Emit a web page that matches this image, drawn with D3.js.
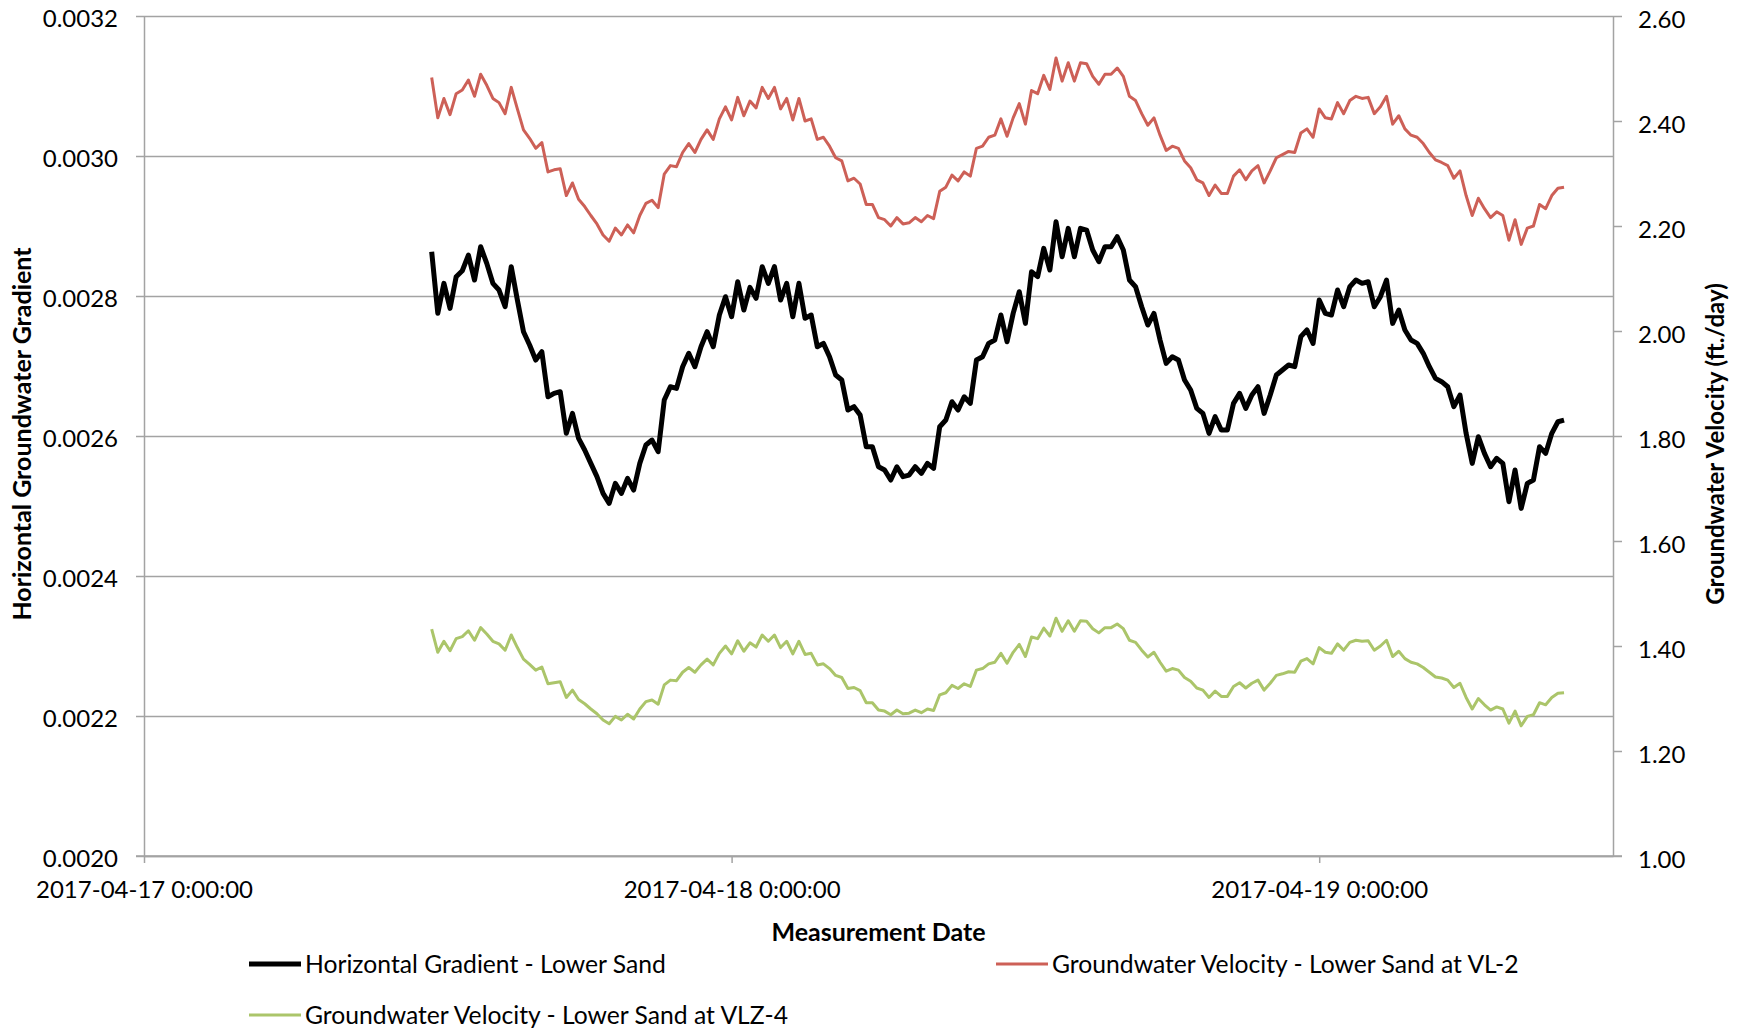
<!DOCTYPE html>
<html>
<head>
<meta charset="utf-8">
<script src="https://cdn.jsdelivr.net/npm/d3@7"></script>
<style>
  body { margin: 0; background: #fff; }
  svg text { font-family: Lato, "Open Sans", sans-serif; fill: #000; }
</style>
</head>
<body>
<div id="chartDiv"></div>
<script>
const w = 1738;
const h = 1032;

// readings every 15 minutes starting 2017-04-17 11:45
const startTime = new Date(2017, 3, 17, 11, 45);
const stepMinutes = 15;

const gradient = [
  0.0028633, 0.0027752, 0.0028181, 0.0027823, 0.0028276, 0.0028361, 0.0028585, 0.0028228, 0.0028704, 0.0028466,
  0.0028181, 0.0028085, 0.0027847, 0.0028419, 0.0027942, 0.0027490, 0.0027300, 0.0027085, 0.0027204, 0.0026561,
  0.0026609, 0.0026633, 0.0026038, 0.0026323, 0.0025966, 0.0025800, 0.0025609, 0.0025419, 0.0025181, 0.0025038,
  0.0025323, 0.0025181, 0.0025395, 0.0025228, 0.0025609, 0.0025871, 0.0025942, 0.0025776, 0.0026514, 0.0026704,
  0.0026681, 0.0026990, 0.0027181, 0.0026990, 0.0027276, 0.0027490, 0.0027276, 0.0027728, 0.0027990, 0.0027704,
  0.0028204, 0.0027800, 0.0028123, 0.0027966, 0.0028419, 0.0028181, 0.0028419, 0.0027942, 0.0028181, 0.0027704,
  0.0028181, 0.0027681, 0.0027728, 0.0027276, 0.0027323, 0.0027133, 0.0026871, 0.0026800, 0.0026371, 0.0026419,
  0.0026300, 0.0025847, 0.0025847, 0.0025561, 0.0025514, 0.0025371, 0.0025561, 0.0025419, 0.0025442, 0.0025561,
  0.0025466, 0.0025609, 0.0025538, 0.0026133, 0.0026228, 0.0026490, 0.0026371, 0.0026561, 0.0026466, 0.0027085,
  0.0027133, 0.0027323, 0.0027371, 0.0027728, 0.0027347, 0.0027752, 0.0028061, 0.0027609, 0.0028347, 0.0028276,
  0.0028681, 0.0028371, 0.0029061, 0.0028561, 0.0028966, 0.0028561, 0.0028966, 0.0028942, 0.0028657, 0.0028490,
  0.0028704, 0.0028704, 0.0028847, 0.0028657, 0.0028228, 0.0028133, 0.0027847, 0.0027585, 0.0027752, 0.0027371,
  0.0027038, 0.0027133, 0.0027085, 0.0026800, 0.0026657, 0.0026395, 0.0026323, 0.0026038, 0.0026276, 0.0026085,
  0.0026085, 0.0026466, 0.0026609, 0.0026395, 0.0026585, 0.0026704, 0.0026323, 0.0026585, 0.0026871, 0.0026942,
  0.0027014, 0.0026990, 0.0027419, 0.0027514, 0.0027323, 0.0027942, 0.0027752, 0.0027728, 0.0028085, 0.0027847,
  0.0028133, 0.0028228, 0.0028181, 0.0028204, 0.0027847, 0.0027990, 0.0028228, 0.0027609, 0.0027800, 0.0027514,
  0.0027371, 0.0027323, 0.0027181, 0.0026990, 0.0026823, 0.0026776, 0.0026704, 0.0026419, 0.0026585, 0.0026038,
  0.0025609, 0.0025990, 0.0025752, 0.0025561, 0.0025681, 0.0025609, 0.0025061, 0.0025514, 0.0024966, 0.0025323,
  0.0025371, 0.0025847, 0.0025752, 0.0026038, 0.0026204, 0.0026228
];

const velocityVL2 = [
  2.483, 2.406, 2.443, 2.412, 2.452, 2.459, 2.478, 2.447, 2.489, 2.468,
  2.443, 2.435, 2.414, 2.464, 2.423, 2.383, 2.367, 2.348, 2.359, 2.303,
  2.307, 2.309, 2.258, 2.282, 2.251, 2.237, 2.220, 2.204, 2.183, 2.171,
  2.196, 2.183, 2.202, 2.187, 2.220, 2.243, 2.249, 2.235, 2.299, 2.315,
  2.313, 2.340, 2.357, 2.340, 2.365, 2.383, 2.365, 2.404, 2.427, 2.402,
  2.445, 2.410, 2.438, 2.425, 2.464, 2.443, 2.464, 2.423, 2.443, 2.402,
  2.443, 2.400, 2.404, 2.365, 2.369, 2.352, 2.330, 2.324, 2.286, 2.291,
  2.280, 2.241, 2.241, 2.216, 2.212, 2.200, 2.216, 2.204, 2.206, 2.216,
  2.208, 2.220, 2.214, 2.266, 2.274, 2.297, 2.286, 2.303, 2.295, 2.348,
  2.352, 2.369, 2.373, 2.404, 2.371, 2.406, 2.433, 2.394, 2.458, 2.452,
  2.487, 2.460, 2.520, 2.476, 2.511, 2.476, 2.511, 2.509, 2.485, 2.470,
  2.489, 2.489, 2.501, 2.485, 2.447, 2.439, 2.414, 2.392, 2.406, 2.373,
  2.344, 2.352, 2.348, 2.324, 2.311, 2.288, 2.282, 2.258, 2.278, 2.262,
  2.262, 2.295, 2.307, 2.288, 2.305, 2.315, 2.282, 2.305, 2.330, 2.336,
  2.342, 2.340, 2.377, 2.385, 2.369, 2.423, 2.406, 2.404, 2.435, 2.414,
  2.439, 2.447, 2.443, 2.445, 2.414, 2.427, 2.447, 2.394, 2.410, 2.385,
  2.373, 2.369, 2.357, 2.340, 2.326, 2.321, 2.315, 2.291, 2.305, 2.258,
  2.220, 2.253, 2.233, 2.216, 2.227, 2.220, 2.173, 2.212, 2.165, 2.196,
  2.200, 2.241, 2.233, 2.258, 2.272, 2.274
];

const velocityVLZ4 = [
  1.432, 1.388, 1.409, 1.391, 1.414, 1.418, 1.429, 1.411, 1.435, 1.423,
  1.409, 1.404, 1.392, 1.421, 1.397, 1.375, 1.365, 1.354, 1.360, 1.328,
  1.330, 1.332, 1.302, 1.316, 1.298, 1.290, 1.280, 1.271, 1.259, 1.252,
  1.266, 1.259, 1.270, 1.261, 1.280, 1.294, 1.297, 1.289, 1.326, 1.335,
  1.334, 1.350, 1.359, 1.350, 1.364, 1.375, 1.364, 1.386, 1.400, 1.385,
  1.410, 1.390, 1.406, 1.398, 1.421, 1.409, 1.421, 1.397, 1.409, 1.385,
  1.409, 1.384, 1.386, 1.364, 1.366, 1.357, 1.344, 1.340, 1.319, 1.321,
  1.315, 1.292, 1.292, 1.278, 1.276, 1.269, 1.278, 1.271, 1.272, 1.278,
  1.273, 1.280, 1.277, 1.307, 1.311, 1.325, 1.319, 1.328, 1.323, 1.354,
  1.357, 1.366, 1.369, 1.386, 1.367, 1.388, 1.403, 1.380, 1.417, 1.414,
  1.434, 1.419, 1.453, 1.428, 1.448, 1.428, 1.448, 1.447, 1.433, 1.425,
  1.435, 1.435, 1.442, 1.433, 1.411, 1.407, 1.392, 1.379, 1.388, 1.369,
  1.352, 1.357, 1.354, 1.340, 1.333, 1.320, 1.316, 1.302, 1.314, 1.304,
  1.304, 1.323, 1.330, 1.320, 1.329, 1.335, 1.316, 1.329, 1.344, 1.347,
  1.351, 1.350, 1.371, 1.376, 1.366, 1.397, 1.388, 1.386, 1.404, 1.392,
  1.407, 1.411, 1.409, 1.410, 1.392, 1.400, 1.411, 1.380, 1.390, 1.376,
  1.369, 1.366, 1.359, 1.350, 1.341, 1.339, 1.335, 1.321, 1.329, 1.302,
  1.280, 1.300, 1.288, 1.278, 1.284, 1.280, 1.253, 1.276, 1.248, 1.266,
  1.269, 1.292, 1.288, 1.302, 1.310, 1.311
];

const leftTicks = [0.0020, 0.0022, 0.0024, 0.0026, 0.0028, 0.0030, 0.0032];
const rightTicks = [1.0, 1.2, 1.4, 1.6, 1.8, 2.0, 2.2, 2.4, 2.6];
const dateTicks = [new Date(2017, 3, 17), new Date(2017, 3, 18), new Date(2017, 3, 19)];
const xDomain = [new Date(2017, 3, 17), new Date(2017, 3, 19, 12)];

const seriesNames = [
  "Horizontal Gradient - Lower Sand",
  "Groundwater Velocity - Lower Sand at VL-2",
  "Groundwater Velocity - Lower Sand at VLZ-4"
];

const plot = {left: 144, right: 1613, top: 16, bottom: 856};
const gridColor = "#a3a3a3";
const fontSize = 24;

const svg = d3.select("#chartDiv")
  .append("svg")
  .attr("width", w)
  .attr("height", h);

const x = d3.scaleTime().domain(xDomain).range([plot.left, plot.right]);
const yL = d3.scaleLinear().domain([0.0020, 0.0032]).range([plot.bottom, plot.top]);
const yR = d3.scaleLinear().domain([1.0, 2.6]).range([plot.bottom, plot.top]);

const times = gradient.map((_d, i) => d3.timeMinute.offset(startTime, i * stepMinutes));

// horizontal grid
svg.append("g")
  .attr("transform", `translate(${plot.left}, 0)`)
  .call(d3.axisLeft(yL).tickValues(leftTicks).tickSize(-(plot.right - plot.left)).tickFormat(""))
  .call(g => g.select(".domain").remove())
  .call(g => g.selectAll("line").attr("stroke", gridColor).attr("stroke-width", 1.5));

const styleAxis = g => {
  g.select(".domain").attr("stroke", gridColor).attr("stroke-width", 1.5);
  g.selectAll(".tick line").attr("stroke", gridColor).attr("stroke-width", 1.5);
  g.selectAll("text").attr("font-size", fontSize).attr("font-family", null);
};

// left axis
svg.append("g")
  .attr("transform", `translate(${plot.left}, 0)`)
  .call(d3.axisLeft(yL).tickValues(leftTicks).tickFormat(d3.format(".4f")).tickSize(8).tickSizeOuter(0).tickPadding(18))
  .call(styleAxis)
  .call(g => g.selectAll("text").attr("dy", "0.44em"));

// right axis
svg.append("g")
  .attr("transform", `translate(${plot.right}, 0)`)
  .call(d3.axisRight(yR).tickValues(rightTicks).tickFormat(d3.format(".2f")).tickSize(9).tickSizeOuter(0).tickPadding(16))
  .call(styleAxis)
  .call(g => g.selectAll("text").attr("dy", "0.46em"));

// bottom axis
svg.append("g")
  .attr("transform", `translate(0, ${plot.bottom})`)
  .call(d3.axisBottom(x).tickValues(dateTicks).tickFormat(d3.timeFormat("%Y-%m-%d %-H:%M:%S")).tickSize(7).tickSizeOuter(0).tickPadding(18))
  .call(styleAxis);

// bottom axis line stretches under the side ticks
svg.append("line")
  .attr("x1", plot.left - 8).attr("x2", plot.right + 9)
  .attr("y1", plot.bottom).attr("y2", plot.bottom)
  .attr("stroke", gridColor).attr("stroke-width", 1.5);

// series
const lineL = d3.line().x((_d, i) => x(times[i])).y(d => yL(d));
const lineR = d3.line().x((_d, i) => x(times[i])).y(d => yR(d));

const series = [
  {values: velocityVLZ4, line: lineR, color: "#abc56a", width: 3},
  {values: velocityVL2, line: lineR, color: "#cd6057", width: 3},
  {values: gradient, line: lineL, color: "#000000", width: 5}
];

svg.selectAll("path.series")
  .data(series)
  .enter()
  .append("path")
  .attr("class", "series")
  .attr("fill", "none")
  .attr("stroke", d => d.color)
  .attr("stroke-width", d => d.width)
  .attr("stroke-linejoin", "round")
  .attr("d", d => d.line(d.values));

// axis titles
svg.append("text")
  .attr("transform", "translate(22, 434) rotate(-90)")
  .attr("text-anchor", "middle")
  .attr("dy", "0.35em")
  .attr("font-size", 25)
  .attr("font-weight", "bold")
  .text("Horizontal Groundwater Gradient");

svg.append("text")
  .attr("transform", "translate(1716, 444) rotate(-90)")
  .attr("text-anchor", "middle")
  .attr("dy", "0.35em")
  .attr("font-size", fontSize)
  .attr("font-weight", "bold")
  .text("Groundwater Velocity (ft./day)");

svg.append("text")
  .attr("x", (plot.left + plot.right) / 2)
  .attr("y", 932)
  .attr("text-anchor", "middle")
  .attr("dy", "0.35em")
  .attr("font-size", 25)
  .attr("font-weight", "bold")
  .text("Measurement Date");

// legend
const legendItems = [
  {name: seriesNames[0], color: "#000000", width: 5, x: 249, y: 964},
  {name: seriesNames[1], color: "#cd6057", width: 3, x: 996, y: 964},
  {name: seriesNames[2], color: "#abc56a", width: 3, x: 249, y: 1015}
];

const legend = svg.selectAll("g.legend")
  .data(legendItems)
  .enter()
  .append("g")
  .attr("class", "legend")
  .attr("transform", d => `translate(${d.x}, ${d.y})`);

legend.append("line")
  .attr("x1", 0).attr("x2", 52)
  .attr("stroke", d => d.color)
  .attr("stroke-width", d => d.width);

legend.append("text")
  .attr("x", 56)
  .attr("dy", "0.35em")
  .attr("font-size", 24.7)
  .text(d => d.name);
</script>
</body>
</html>
